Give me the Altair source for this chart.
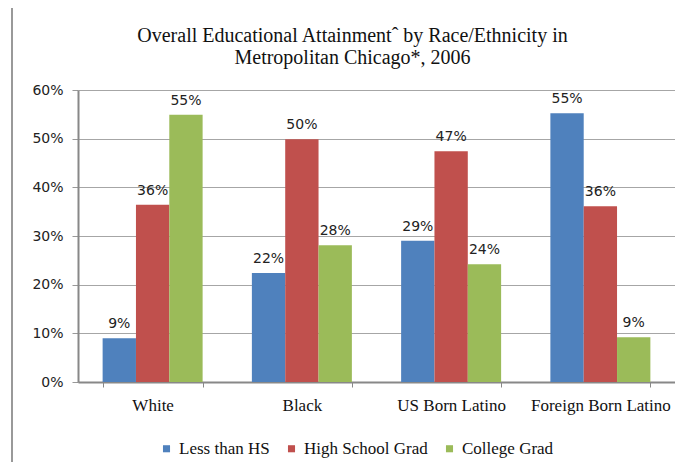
import altair as alt
import pandas as pd

categories = ["White", "Black", "US Born Latino", "Foreign Born Latino"]
series = ["Less than HS", "High School Grad", "College Grad"]
less_than_hs = [9.0, 22.4, 29.0, 55.2]
high_school = [36.4, 49.9, 47.4, 36.1]
college = [54.9, 28.1, 24.2, 9.2]
colors = ["#4F81BD", "#C0504D", "#9BBB59"]
y_ticks = [0, 10, 20, 30, 40, 50, 60]
title_lines = ["Overall Educational Attainment\u02c6 by Race/Ethnicity in",
               "Metropolitan Chicago*, 2006"]

rows = []
for i, c in enumerate(categories):
    for s, vals in zip(series, [less_than_hs, high_school, college]):
        rows.append({"Group": c, "Level": s, "Value": vals[i]})
df = pd.DataFrame(rows)

SERIF = "Liberation Serif"
SANS = "DejaVu Sans"

base = alt.Chart(df).encode(
    x=alt.X("Group:N", sort=categories,
            scale=alt.Scale(paddingInner=0.33, paddingOuter=0.165),
            axis=alt.Axis(title=None, labelAngle=0, tickBand="extent",
                          tickSize=5, tickColor="#888888", domainColor="#888888",
                          domainWidth=2, labelFont=SERIF, labelFontSize=17,
                          labelColor="#111111", labelPadding=10, grid=False)),
    xOffset=alt.XOffset("Level:N", sort=series),
    y=alt.Y("Value:Q", scale=alt.Scale(domain=[0, 60], nice=False),
            axis=alt.Axis(title=None, values=y_ticks, labelExpr="datum.value + '%'",
                          tickSize=6, tickColor="#999999", domainColor="#888888",
                          domainWidth=2, gridColor="#a6a6a6", gridWidth=1,
                          labelFont=SANS, labelFontSize=14, labelColor="#222222",
                          labelPadding=9)),
)

bars = base.mark_bar().encode(
    color=alt.Color("Level:N", sort=series,
                    scale=alt.Scale(domain=series, range=colors),
                    legend=alt.Legend(title=None, orient="none", direction="horizontal",
                                      legendX=80, legendY=350, symbolType="square",
                                      symbolSize=50, symbolStrokeWidth=0,
                                      labelFont=SERIF, labelFontSize=17,
                                      labelColor="#111111", columnPadding=13,
                                      labelOffset=4)),
)

labels = base.transform_calculate(
    label="format(datum.Value, '.0f') + '%'"
).mark_text(baseline="bottom", dy=-7, font=SANS, fontSize=14, color="#222222").encode(
    text="label:N"
)

frame_df = pd.DataFrame({"k": [0]})
frame = alt.Chart(frame_df).mark_rect(fill=None, stroke="#999999", strokeWidth=2).encode(
    x=alt.value(-66), x2=alt.value(700), y=alt.value(-83), y2=alt.value(500))

chart = alt.layer(frame, bars, labels).properties(
    width=597, height=292,
    title=alt.TitleParams(text=title_lines, font=SERIF, fontSize=20,
                          fontWeight="normal", color="#111111", anchor="middle",
                          frame="group", dx=-24, offset=-62, lineHeight=22),
    autosize=alt.AutoSizeParams(type="none"),
    padding={"left": 70, "top": 82, "right": 0, "bottom": 80},
).configure_view(stroke=None)

chart.save("out.html", embed_options={"renderer": "svg", "actions": False})
